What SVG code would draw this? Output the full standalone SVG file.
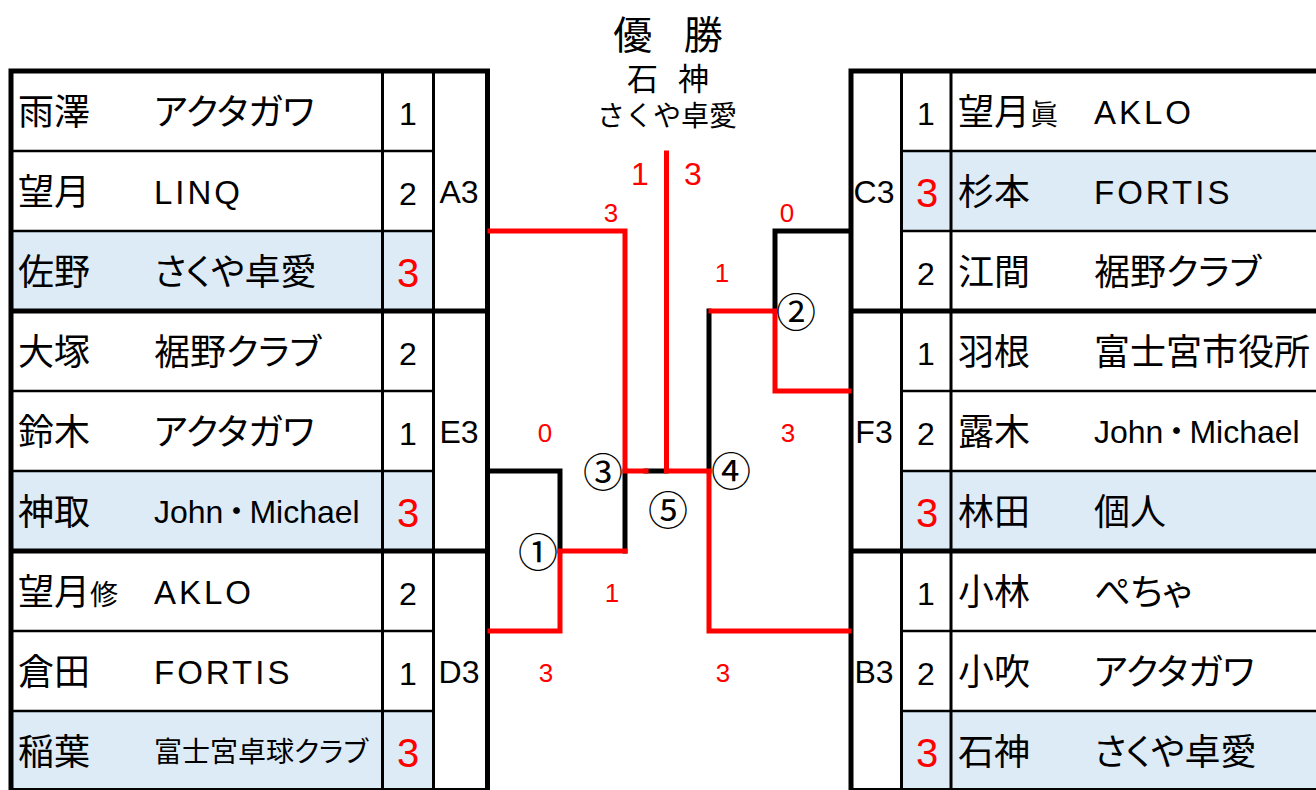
<svg xmlns="http://www.w3.org/2000/svg" width="1316" height="790" viewBox="0 0 1316 790">
<style>
.bg{fill:#ffffff}
.hl{fill:#DDEBF7}
.thick{stroke:#000;stroke-width:5;fill:none}
.col{stroke:#000;stroke-width:3;fill:none}
.thin{stroke:#000;stroke-width:2.5;fill:none}
.edge{stroke:#000;stroke-width:2;fill:none}
.bk{stroke:#000;stroke-width:5;fill:none;stroke-linecap:square}
.rd{stroke:#FF0000;stroke-width:5;fill:none;stroke-linecap:square}
.nm{font-family:"Noto Sans CJK JP",sans-serif;font-size:36px;fill:#000}
.sm{font-size:28px}
.tm{font-family:"Noto Sans CJK JP",sans-serif;font-size:36px;fill:#000;font-feature-settings:"palt" 1}
.tms{font-family:"Noto Sans CJK JP",sans-serif;font-size:28px;fill:#000;font-feature-settings:"palt" 1}
.lat{font-family:"Liberation Sans","Noto Sans CJK JP",sans-serif;font-size:33px;letter-spacing:3px;fill:#000}
.jm{font-family:"Liberation Sans","Noto Sans CJK JP",sans-serif;font-size:32px;fill:#000}
.num{font-family:"Liberation Sans",sans-serif;font-size:32px;fill:#000;text-anchor:middle}
.win{font-family:"Liberation Sans",sans-serif;font-size:40px;fill:#FF0000;text-anchor:middle}
.grp{font-family:"Liberation Sans",sans-serif;font-size:32px;fill:#000;text-anchor:middle}
.sc{font-family:"Liberation Sans",sans-serif;font-size:26px;fill:#FF0000;text-anchor:middle}
.scf{font-family:"Liberation Sans",sans-serif;font-size:32px;fill:#FF0000;text-anchor:middle}
.mk{font-family:"Noto Sans CJK JP",sans-serif;font-size:40px;fill:#000;text-anchor:middle}
.ttl{font-family:"Noto Sans CJK JP",sans-serif;fill:#000;text-anchor:middle}
</style>
<rect class="bg" x="0" y="0" width="1316" height="790"/>

<g id="title">
<text class="ttl" x="668" y="49" font-size="39" word-spacing="23">優 勝</text>
<text class="ttl" x="668" y="90" font-size="31" word-spacing="13">石 神</text>
<text class="ttl" x="667" y="126" font-size="28">さくや卓愛</text>
</g>

<g id="left-table">
<rect class="hl" x="11" y="231" width="422" height="80"/>
<rect class="hl" x="11" y="471" width="422" height="80"/>
<rect class="hl" x="11" y="711" width="422" height="80"/>
<g class="grid">
<path class="thin" d="M11 151H433.5M11 231H433.5M11 391H433.5M11 471H433.5M11 631H433.5M11 711H433.5"/>
<path class="edge" d="M11 789H487.5"/>
<path class="col" d="M382.5 71V790M433.5 71V790"/>
<path class="thick" d="M11 68.5V790M487.5 68.5V790M8.5 71H490M8.5 311H490M8.5 551H490"/>
</g>
</g>

<g id="pool-A3">
<text class="nm" x="18" y="125">雨澤</text><text class="tm" x="154" y="125">アクタガワ</text><text class="num" x="408" y="125">1</text>
<text class="nm" x="18" y="205">望月</text><text class="lat" x="154" y="204">LINQ</text><text class="num" x="408" y="205">2</text>
<text class="nm" x="18" y="285">佐野</text><text class="tm" x="154" y="285">さくや卓愛</text><text class="win" x="408" y="287">3</text>
<text class="grp" x="459" y="203">A3</text>
</g>
<g id="pool-E3">
<text class="nm" x="18" y="365">大塚</text><text class="tm" x="154" y="365">裾野クラブ</text><text class="num" x="408" y="365">2</text>
<text class="nm" x="18" y="445">鈴木</text><text class="tm" x="154" y="445">アクタガワ</text><text class="num" x="408" y="445">1</text>
<text class="nm" x="18" y="525">神取</text><text class="jm" x="154" y="523">John<tspan dx="-3">・</tspan><tspan dx="-3">Michael</tspan></text><text class="win" x="408" y="527">3</text>
<text class="grp" x="459" y="443">E3</text>
</g>
<g id="pool-D3">
<text class="nm" x="18" y="605">望月<tspan class="sm">修</tspan></text><text class="lat" x="154" y="604">AKLO</text><text class="num" x="408" y="605">2</text>
<text class="nm" x="18" y="685">倉田</text><text class="lat" x="154" y="684">FORTIS</text><text class="num" x="408" y="685">1</text>
<text class="nm" x="18" y="765">稲葉</text><text class="tms" x="154" y="762">富士宮卓球クラブ</text><text class="win" x="408" y="767">3</text>
<text class="grp" x="459" y="683">D3</text>
</g>

<g id="right-table">
<rect class="hl" x="901.5" y="151" width="415" height="80"/>
<rect class="hl" x="901.5" y="471" width="415" height="80"/>
<rect class="hl" x="901.5" y="711" width="415" height="80"/>
<g class="grid">
<path class="thin" d="M901.5 151H1316M901.5 231H1316M901.5 391H1316M901.5 471H1316M901.5 631H1316M901.5 711H1316"/>
<path class="edge" d="M851 789H1316"/>
<path class="col" d="M901.5 71V790M951 71V790"/>
<path class="thick" d="M851 68.5V790M848.5 71H1320M848.5 311H1320M848.5 551H1320"/>
</g>
</g>

<g id="pool-C3">
<text class="num" x="926" y="125">1</text><text class="nm" x="958" y="125">望月<tspan class="sm">眞</tspan></text><text class="lat" x="1094" y="124">AKLO</text>
<text class="win" x="927" y="207">3</text><text class="nm" x="958" y="205">杉本</text><text class="lat" x="1094" y="204">FORTIS</text>
<text class="num" x="926" y="285">2</text><text class="nm" x="958" y="285">江間</text><text class="tm" x="1094" y="285">裾野クラブ</text>
<text class="grp" x="874" y="203">C3</text>
</g>
<g id="pool-F3">
<text class="num" x="926" y="365">1</text><text class="nm" x="958" y="365">羽根</text><text class="tm" x="1094" y="365">富士宮市役所</text>
<text class="num" x="926" y="445">2</text><text class="nm" x="958" y="445">露木</text><text class="jm" x="1094" y="443">John<tspan dx="-3">・</tspan><tspan dx="-3">Michael</tspan></text>
<text class="win" x="927" y="527">3</text><text class="nm" x="958" y="525">林田</text><text class="tm" x="1094" y="525">個人</text>
<text class="grp" x="874" y="443">F3</text>
</g>
<g id="pool-B3">
<text class="num" x="926" y="605">1</text><text class="nm" x="958" y="605">小林</text><text class="tm" x="1094" y="605">ぺちゃ</text>
<text class="num" x="926" y="685">2</text><text class="nm" x="958" y="685">小吹</text><text class="tm" x="1094" y="685">アクタガワ</text>
<text class="win" x="927" y="767">3</text><text class="nm" x="958" y="765">石神</text><text class="tm" x="1094" y="765">さくや卓愛</text>
<text class="grp" x="874" y="683">B3</text>
</g>

<g id="connectors">
<path class="bk" d="M490 471H560V551"/>
<path class="bk" d="M625 551V471"/>
<path class="bk" d="M646 471H666"/>
<path class="bk" d="M709 471V311"/>
<path class="bk" d="M849 231H775V311"/>
<path class="rd" d="M490 231H625V471H646"/>
<path class="rd" d="M490 631H560V551H625"/>
<path class="rd" d="M666.5 153V471H709V631H849"/>
<path class="rd" d="M711 311H775V391H849"/>
</g>

<g id="match-labels">
<text class="mk" x="538" y="567">①</text>
<text class="mk" x="796" y="327">②</text>
<text class="mk" x="603" y="487">③</text>
<text class="mk" x="731" y="486">④</text>
<text class="mk" x="668" y="525">⑤</text>
</g>

<g id="scores">
<text class="scf" x="640" y="185">1</text>
<text class="scf" x="693" y="185">3</text>
<text class="sc" x="611" y="222">3</text>
<text class="sc" x="787" y="222">0</text>
<text class="sc" x="722" y="282">1</text>
<text class="sc" x="545" y="442">0</text>
<text class="sc" x="788" y="442">3</text>
<text class="sc" x="612" y="602">1</text>
<text class="sc" x="546" y="682">3</text>
<text class="sc" x="723" y="682">3</text>
</g>
</svg>
